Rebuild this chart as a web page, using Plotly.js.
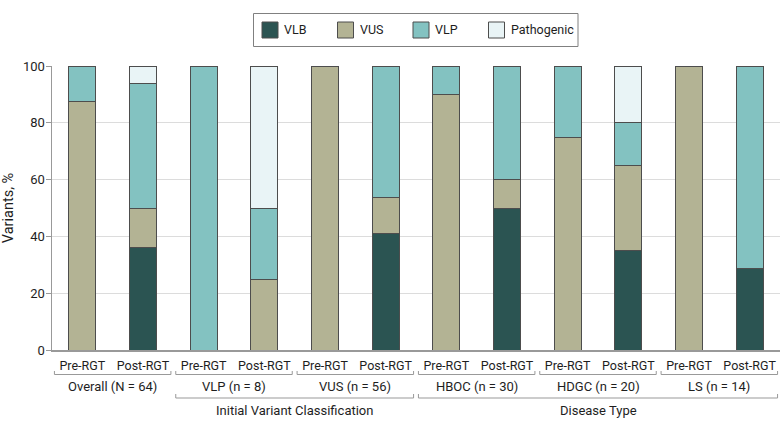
<!DOCTYPE html>
<html>
<head>
<meta charset="utf-8">
<script src="https://cdn.plot.ly/plotly-3.0.1.min.js"></script>
<style>html,body{margin:0;padding:0;background:#fff;}#chart{width:780px;height:429px;}</style>
</head>
<body>
<div id="chart"></div>
<script>
// ---- data ----
const phases = ['Pre-RGT', 'Post-RGT'];
const groups = ['Overall (N = 64)', 'VLP (n = 8)', 'VUS (n = 56)', 'HBOC (n = 30)', 'HDGC (n = 20)', 'LS (n = 14)'];
const superGroups = ['Initial Variant Classification', 'Disease Type'];
const superGroupMembers = [[1, 2], [3, 4, 5]];
const seriesNames = ['VLB', 'VUS', 'VLP', 'Pathogenic'];
const vlb = [null, 35.94, null, null, null, 41.07, null, 50, null, 35, null, 28.57];
const vus = [87.5, 14.06, null, 25, 100, 12.5, 90, 10, 75, 30, 100, null];
const vlp = [12.5, 43.75, 100, 25, null, 46.43, 10, 40, 25, 15, null, 71.43];
const pathogenic = [null, 6.25, null, 50, null, null, null, null, null, 20, null, null];
const yTicks = [0, 20, 40, 60, 80, 100];

// ---- styles ----
const colors = ['#2b5452', '#b3b394', '#83c2c1', '#e9f4f6'];
const FONT = 'Roboto, "Open Sans", sans-serif';
const TXT = '#1e1e1e';
const LINE = '#999';
const OUTLINE = '#4d4d4d';

const xIdx = [];
const xText = [];
groups.forEach((g, gi) => phases.forEach((p, pi) => { xIdx.push(gi * 2 + pi); xText.push(p); }));

const seriesVals = [vlb, vus, vlp, pathogenic];
const traces = seriesNames.map((name, i) => ({
  type: 'bar',
  name: name,
  x: xIdx,
  y: seriesVals[i],
  width: 0.445,
  marker: { color: colors[i], line: { color: OUTLINE, width: 1 } },
  hoverinfo: 'name+y',
  showlegend: false
}));

// pixel helpers for layout
const W = 780, H = 429;
const M = { l: 52, r: 0, t: 66, b: 79 };
const plotW = W - M.l - M.r, plotH = H - M.t - M.b;
const px2x = p => (p - M.l) / plotW;          // pixel column -> paper x
const py = p => (H - M.b - p) / plotH;        // pixel row -> paper y

const shapes = [];
const annotations = [];
const bracket = (x0, x1, yLine, yTop) => {
  shapes.push({ type: 'line', xref: 'x', yref: 'paper', x0: x0, x1: x1, y0: py(yLine), y1: py(yLine), line: { color: LINE, width: 1 } });
  shapes.push({ type: 'line', xref: 'x', yref: 'paper', x0: x0, x1: x0, y0: py(yLine), y1: py(yTop), line: { color: LINE, width: 1 } });
  shapes.push({ type: 'line', xref: 'x', yref: 'paper', x0: x1, x1: x1, y0: py(yLine), y1: py(yTop), line: { color: LINE, width: 1 } });
};
groups.forEach((g, gi) => {
  const a = gi * 2, b = gi * 2 + 1;
  bracket(a - 0.46, b + 0.46, 374.5, 371);
  annotations.push({ xref: 'x', yref: 'paper', x: (a + b) / 2, y: py(386), text: g, showarrow: false,
    xanchor: 'center', yanchor: 'middle', font: { family: FONT, size: 13, color: TXT } });
});
superGroups.forEach((s, si) => {
  const mem = superGroupMembers[si];
  const a = mem[0] * 2, b = mem[mem.length - 1] * 2 + 1;
  bracket(a - 0.46, b + 0.46, 398, 394);
  annotations.push({ xref: 'x', yref: 'paper', x: (a + b) / 2, y: py(410.5), text: s, showarrow: false,
    xanchor: 'center', yanchor: 'middle', font: { family: FONT, size: 13, color: TXT } });
});

// legend box (drawn as layout shapes + text)
shapes.push({ type: 'rect', xref: 'paper', yref: 'paper', x0: px2x(253.5), x1: px2x(578), y0: py(13.5), y1: py(46.5),
  line: { color: '#808080', width: 1 }, fillcolor: 'rgba(0,0,0,0)' });
seriesNames.forEach((name, i) => {
  const sx = 262 + i * 75.5;
  shapes.push({ type: 'rect', xref: 'paper', yref: 'paper', x0: px2x(sx), x1: px2x(sx + 16), y0: py(22), y1: py(38),
    line: { color: OUTLINE, width: 1 }, fillcolor: colors[i] });
  annotations.push({ xref: 'paper', yref: 'paper', x: px2x(sx + 20), y: py(30), text: name, showarrow: false,
    xanchor: 'left', yanchor: 'middle', font: { family: FONT, size: 12.5, color: TXT } });
});

const layout = {
  width: W, height: H,
  margin: M,
  paper_bgcolor: '#fff', plot_bgcolor: '#fff',
  barmode: 'stack',
  font: { family: FONT, size: 12, color: TXT },
  showlegend: false,
  xaxis: {
    range: [-0.5, 11.5], tickmode: 'array', tickvals: xIdx, ticktext: xText,
    showgrid: false, zeroline: false, showline: true, linecolor: LINE, linewidth: 1.5,
    ticks: '', ticklabelstandoff: 3, tickfont: { family: FONT, size: 12.5, color: TXT }, fixedrange: true
  },
  yaxis: {
    range: [0, 100], tickmode: 'array', tickvals: yTicks,
    showgrid: true, gridcolor: '#dcdcdc', gridwidth: 1, zeroline: false,
    showline: true, linecolor: LINE, linewidth: 1.5,
    ticks: 'outside', ticklen: 5, tickcolor: LINE, tickwidth: 1,
    ticklabelstandoff: -2,
    tickfont: { family: FONT, size: 13, color: TXT },
    title: { text: 'Variants, %', font: { family: FONT, size: 14.5, color: TXT }, standoff: 8 },
    fixedrange: true
  },
  shapes: shapes,
  annotations: annotations
};

Plotly.newPlot('chart', traces, layout, { displayModeBar: false, staticPlot: true });
</script>
</body>
</html>
